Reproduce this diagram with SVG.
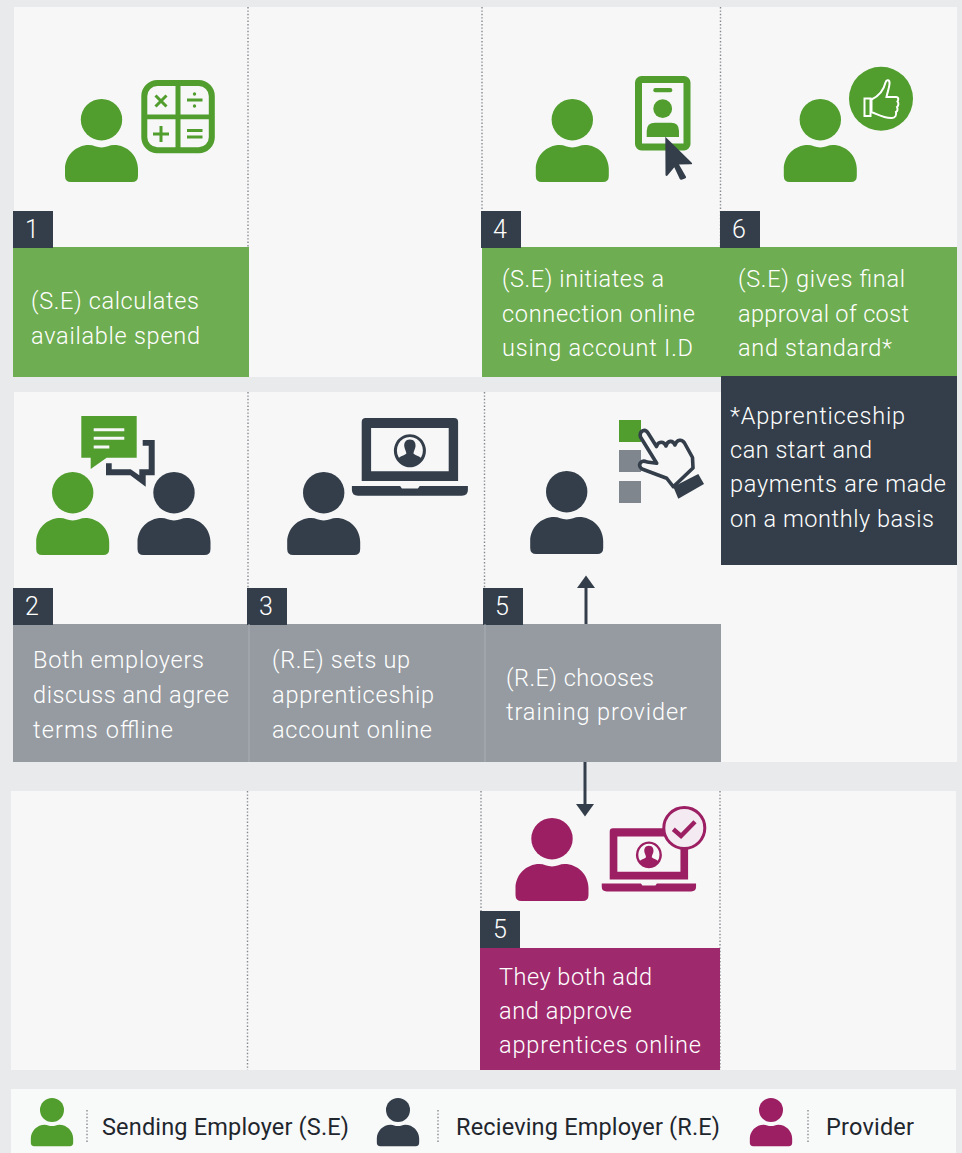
<svg xmlns="http://www.w3.org/2000/svg" width="962" height="1153" viewBox="0 0 962 1153">
<style>
text{font-family:"Roboto","Liberation Sans",sans-serif;font-size:23.5px;font-weight:300;fill:#fff}
.lg{fill:#1f262d;font-weight:400}
.num{font-size:25px;text-anchor:middle}
.panel{fill:#f7f7f7}
.dot{stroke:#85898e;stroke-width:1.4;stroke-dasharray:1.4 2;fill:none}
.g{fill:#519e2e}.d{fill:#333e4a}.m{fill:#9c1f63}
.tab{fill:#333e4a}
.conn{stroke:#333e4a;stroke-width:3;fill:none;marker-end:url(#ah)}
</style>
<defs>
<marker id="ah" markerUnits="userSpaceOnUse" markerWidth="14" markerHeight="20" refX="0" refY="10" orient="auto"><path d="M0 1L12.500 10L0 19Z" fill="#333e4a"/></marker>
<g id="person"><circle cx="0" cy="20.700" r="20.700"/><path d="M-36.500 70C-36.500 56.800-25.700 46-12.500 46C-8 46-5 48.400 0 48.400C5 48.400 8 46 12.500 46C25.700 46 36.500 56.800 36.500 70V77Q36.500 83 30.500 83H-30.500Q-36.500 83-36.500 77Z"/></g>
<g id="laptop"><path fill-rule="evenodd" d="M-44.200 0H44.200Q48.200 0 48.200 4V63H-48.200V4Q-48.200 0-44.200 0ZM-38.800 10V53.300H38.800V10Z"/><path d="M-58 68H-9.800L-8 70.400H8L9.800 68H58V72Q58 77.700 52 77.700H-52Q-58 77.700-58 72Z"/><path fill-rule="evenodd" d="M0 16.200A16 16.500 0 1 0 .01 16.200ZM0 19A13 13.500 0 1 1 -.01 19Z"/><path d="M0 21.500C4.500 21.500 6 25 5.600 28.500C5.300 31 3.800 33 3.500 35.500C6 38 10 38 12 41C8.500 45 4.500 47 0 47C-4.500 47-8.500 45-12 41C-10 38-6 38-3.500 35.500C-3.800 33-5.300 31-5.600 28.500C-6 25-4.500 21.500 0 21.500Z"/></g>
</defs>
<rect width="962" height="1153" fill="#e9eaec"/>
<g id="panels">
<rect class="panel" x="14" y="7" width="943" height="370"/>
<rect class="panel" x="14" y="392" width="943" height="370"/>
<rect class="panel" x="11" y="791" width="945" height="279"/>
<rect x="11" y="1089" width="945" height="64" fill="#f8f9f9"/>
<path class="dot" d="M248 7V247M482 7V247M720.500 7V247M248 392V624M484.500 392V624M247.500 791V1070M481 791V911M720 791V1070"/>
</g>
<g id="node-1">
<rect x="13" y="247" width="236" height="130" fill="#6fad52"/>
<rect class="tab" x="13" y="211" width="40" height="37"/>
<text class="num" x="32" y="238">1</text>
<text x="31" y="309" textLength="168">(S.E) calculates</text>
<text x="31" y="344" textLength="169">available spend</text>
<use href="#person" class="g" x="101.500" y="99"/>
<g class="g"><rect x="144.300" y="83" width="67.500" height="67.300" rx="13" fill="none" stroke="#519e2e" stroke-width="6"/>
<path d="M175.500 82H180.500V152H175.500ZM143 114.500H213V119.300H143Z"/>
<path d="M155.500 95.500L166.500 106.500M166.500 95.500L155.500 106.500M153 134H169M161 126V142M187 100H202.500M187 130.500H202.500M187 137H202.500" stroke="#519e2e" stroke-width="3" fill="none"/>
<circle cx="194.500" cy="94" r="1.700"/><circle cx="194.500" cy="106" r="1.700"/></g>
</g>
<g id="node-4">
<rect x="482" y="247" width="239" height="130" fill="#6fad52"/>
<rect class="tab" x="481" y="211" width="40" height="37"/>
<text class="num" x="500" y="238">4</text>
<text x="502" y="287" textLength="162">(S.E) initiates a</text>
<text x="502" y="322" textLength="193">connection online</text>
<text x="502" y="356" textLength="191">using account I.D</text>
<use href="#person" class="g" x="572.300" y="99"/>
<rect x="638.500" y="79.500" width="48.500" height="67.500" rx="3" fill="none" stroke="#519e2e" stroke-width="7"/>
<g class="g"><rect x="653.300" y="88" width="19" height="4.300" rx="2"/><circle cx="662.700" cy="108.700" r="9.400"/><path d="M646.700 131Q646.700 122.700 655 122.700H671Q679 122.700 679 131V137H646.700Z"/></g>
<path class="d" d="M665.300 136.700L692 163Q692.500 164.500 691 164.300L679 164.500L686 176.700Q686.500 178 685 178.500L681.500 179.800Q680.300 180 679.800 179L674.300 167.300L667.500 175.500Q666 176.500 665.500 175Z"/>
</g>
<g id="node-6">
<rect x="721" y="247" width="236" height="130" fill="#6fad52"/>
<rect class="tab" x="720" y="211" width="40" height="37"/>
<text class="num" x="739" y="238">6</text>
<text x="738" y="287" textLength="167">(S.E) gives final</text>
<text x="738" y="322" textLength="171">approval of cost</text>
<text x="738" y="356" textLength="154">and standard*</text>
<use href="#person" class="g" x="820.300" y="99"/>
<circle class="g" cx="881" cy="98.700" r="32"/>
<path d="M864.500 98.500H870.500V116H864.500ZM871.500 99.500C879 96 884 89 885.500 82.500C886.500 79 890 79.500 889.500 84C889 89 887.500 92 886.500 97H896C899 97 898.500 100 897.500 101.500C899 103 898.500 106 897 107C898 109 897.500 111.500 896 112C896.500 115 895.500 118 892 118C884 118.500 877 114 871.500 112Z" fill="none" stroke="#fff" stroke-width="2"/>
</g>
<g id="note">
<rect class="d" x="721" y="376" width="236" height="189"/>
<text x="730" y="424" textLength="175">*Apprenticeship</text>
<text x="730" y="458" textLength="142">can start and</text>
<text x="730" y="492" textLength="216">payments are made</text>
<text x="730" y="527" textLength="204">on a monthly basis</text>
</g>
<g id="node-2">
<rect x="13" y="624" width="236" height="138" fill="#959ba1"/>
<rect class="tab" x="13" y="588" width="40" height="37"/>
<text class="num" x="32" y="615">2</text>
<text x="33" y="668" textLength="171">Both employers</text>
<text x="33" y="703" textLength="196">discuss and agree</text>
<text x="33" y="738" textLength="140">terms offline</text>
<use href="#person" class="g" x="72.700" y="472"/>
<use href="#person" class="d" x="174" y="472"/>
<path class="g" d="M81.300 416H136.700V457.700H106.700L90.700 469V457.700H81.300Z"/>
<path d="M93.700 429.700H124.300M93.700 438.300H124.300M93.700 447H109.300" stroke="#f7f7f7" stroke-width="3" fill="none"/>
<path class="d" d="M142.700 440H154.700V475.300H145.700V486.700L130.300 475.300H106V463.300H111.700V469.300H130.700L139.300 475.300V469.300H148.700V445.700H142.700Z"/>
</g>
<g id="node-3">
<rect x="249" y="624" width="236" height="138" fill="#959ba1"/>
<rect class="tab" x="247" y="588" width="40" height="37"/>
<text class="num" x="266" y="615">3</text>
<text x="272" y="668" textLength="138">(R.E) sets up</text>
<text x="272" y="703" textLength="162">apprenticeship</text>
<text x="272" y="738" textLength="160">account online</text>
<use href="#person" class="d" x="323.700" y="472"/>
<use href="#laptop" class="d" x="409.900" y="418"/>
</g>
<g id="node-5a">
<rect x="485" y="624" width="236" height="138" fill="#959ba1"/>
<rect class="tab" x="483" y="588" width="40" height="37"/>
<text class="num" x="502" y="615">5</text>
<text x="506" y="686" textLength="148">(R.E) chooses</text>
<text x="506" y="720" textLength="181">training provider</text>
<use href="#person" class="d" x="566.700" y="471"/>
<rect class="g" x="619" y="420" width="22" height="22"/>
<rect x="619" y="450" width="22" height="22" fill="#7f868d"/>
<rect x="619" y="481" width="22" height="22" fill="#7f868d"/>
<path d="M640.500 437C639 431 645 428 648 433L656.500 446.500C658 441 664 441 666 446C667.500 440 673 440 675 445C677 439 682 439 684.500 443L692.500 457.500L693 468L673.300 486.700C668 480 667 478.500 666.700 478.300L642 469C637 465 641 459 647 462L656.700 463.300Z" fill="#f7f7f7" stroke="#333e4a" stroke-width="3.600" stroke-linejoin="round"/>
<path class="d" d="M673.300 486.700L698.300 474L704 484L678.300 498.700Z"/>
</g>
<path d="M249 624V762M485 624V762" stroke="#a9aeb3" stroke-width="1" fill="none"/>
<g id="node-5b">
<rect x="480" y="948" width="240" height="122" fill="#9e2a6d"/>
<rect class="tab" x="480" y="911" width="40" height="37"/>
<text class="num" x="500" y="938">5</text>
<text x="499" y="985" textLength="153">They both add</text>
<text x="499" y="1019" textLength="133">and approve</text>
<text x="499" y="1053" textLength="202">apprentices online</text>
<use href="#person" class="m" x="552" y="818"/>
<g class="m" transform="translate(648.900 828.300) scale(.813)"><use href="#laptop"/></g>
<circle cx="684.300" cy="828" r="20.500" fill="#f4ebf2" stroke="#9c1f63" stroke-width="3"/>
<path d="M673.300 829.300L681 836L695 821.700" fill="none" stroke="#9c1f63" stroke-width="4.500"/>
</g>
<g id="connectors">
<path class="conn" d="M586 624V588"/>
<path class="conn" d="M585 762V804"/>
</g>
<g id="legend">
<g id="legend-se"><use href="#person" class="g" transform="translate(52 1098) scale(.58)"/><path class="dot" d="M87 1110V1142"/><text class="lg" x="102" y="1135" textLength="247">Sending Employer (S.E)</text></g>
<g id="legend-re"><use href="#person" class="d" transform="translate(398 1098) scale(.58)"/><path class="dot" d="M438 1110V1142"/><text class="lg" x="456" y="1135" textLength="264">Recieving Employer (R.E)</text></g>
<g id="legend-p"><use href="#person" class="m" transform="translate(771 1098) scale(.58)"/><path class="dot" d="M808 1110V1142"/><text class="lg" x="826" y="1135" textLength="88">Provider</text></g>
</g>
</svg>
